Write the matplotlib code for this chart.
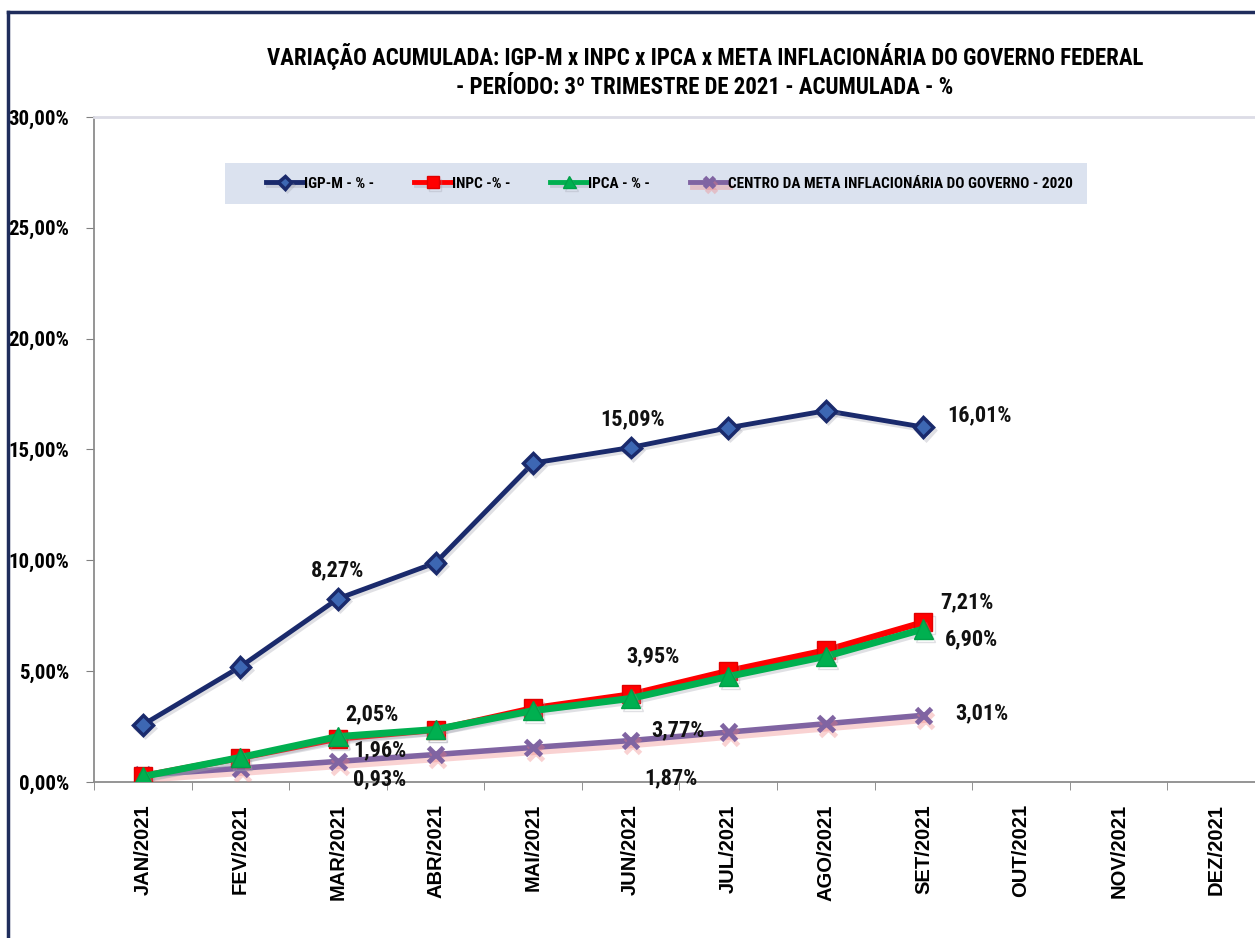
import numpy as np
import matplotlib
matplotlib.use("Agg")
import matplotlib.pyplot as plt
import matplotlib.patheffects as pe
from matplotlib.patches import Rectangle
from matplotlib import font_manager as fm

# condensed face for the chart texts, if one is installed
NARROW = "DejaVu Sans"
STRETCH = "condensed"
names = {f.name for f in fm.fontManager.ttflist}
for cand in ["Liberation Sans Narrow", "Roboto Condensed", "Open Sans Condensed"]:
    if cand in names:
        NARROW = cand
        break
plt.rcParams["font.family"] = ["Liberation Sans", "DejaVu Sans"]

months = ["JAN/2021", "FEV/2021", "MAR/2021", "ABR/2021", "MAI/2021", "JUN/2021",
          "JUL/2021", "AGO/2021", "SET/2021", "OUT/2021", "NOV/2021", "DEZ/2021"]
igpm = [2.58, 5.20, 8.27, 9.89, 14.39, 15.09, 15.98, 16.75, 16.01]
inpc = [0.27, 1.09, 1.96, 2.35, 3.33, 3.95, 5.01, 5.94, 7.21]
ipca = [0.25, 1.11, 2.05, 2.37, 3.22, 3.77, 4.76, 5.67, 6.90]
meta = [0.31, 0.62, 0.93, 1.24, 1.56, 1.87, 2.25, 2.63, 3.01]
yticks = [0, 5, 10, 15, 20, 25, 30]

# labels shown on the chart: (month index, value, dx px, dy px)
labels = [
    (2, igpm[2], 0, 28), (5, igpm[5], 2, 28), (8, igpm[8], 56, 12),
    (2, ipca[2], 34, 22), (2, inpc[2], 42, -12), (2, meta[2], 42, -18),
    (5, inpc[5], 22, 38), (5, ipca[5], 47, -32), (5, meta[5], 40, -38),
    (8, inpc[8], 43, 20), (8, ipca[8], 48, -10), (8, meta[8], 58, 2),
]

def pct(v):
    return f"{v:.2f}%".replace(".", ",")

fig = plt.figure(figsize=(12.55, 9.38), dpi=100)
fig.patch.set_facecolor("white")

# outer frame
fig.add_artist(plt.Line2D([8 / 1255, 8 / 1255], [0, 1 - 12 / 938], color="#1f2d5c", lw=2.5,
                          transform=fig.transFigure))
fig.add_artist(plt.Line2D([8 / 1255, 1], [1 - 12 / 938, 1 - 12 / 938], color="#1f2d5c", lw=2.5,
                          transform=fig.transFigure))

ax = fig.add_axes([94 / 1255, 1 - 782 / 938, 1171 / 1255, 665 / 938])
x = np.arange(len(igpm))

shadow = [pe.SimpleLineShadow(offset=(1.5, -2), shadow_color="#9a9aa8", alpha=0.3),
          pe.Normal()]

ax.plot(x, meta, color="#8064a2", lw=4, marker="x", ms=11, mew=3.5, zorder=3,
        path_effects=[pe.SimpleLineShadow(offset=(1.5, -3.5), shadow_color="#f08080", alpha=0.35),
                      pe.Normal()],
        label="CENTRO DA META INFLACIONÁRIA DO GOVERNO - 2020")
ax.plot(x, inpc, color="#ff0000", lw=4.5, marker="s", ms=13, mfc="#ff0000", mec="#e00000",
        zorder=4, path_effects=shadow, label="INPC -% -")
ax.plot(x, ipca, color="#00b050", lw=5, marker="^", ms=14, mfc="#00b050", mec="#00a048",
        zorder=5, path_effects=shadow, label="IPCA - % -")
ax.plot(x, igpm, color="#1a2a6c", lw=3.5, marker="D", ms=10, mfc="#3d67b3", mec="#1a2a6c",
        mew=2.5, zorder=6, path_effects=shadow, label="IGP-M - % -")

for i, v, dx, dy in labels:
    ax.annotate(pct(v), (i, v), xytext=(dx, dy), textcoords="offset pixels",
                ha="center", va="center", fontsize=16, fontweight="bold",
                family=NARROW, fontstretch=STRETCH, color="#111111", zorder=8)

ax.set_xlim(-0.5, len(months) - 0.5)
ax.set_ylim(0, 30)
ax.set_yticks(yticks)
ax.set_yticklabels([pct(v) for v in yticks], fontsize=15, fontweight="bold",
                   family=NARROW, fontstretch=STRETCH)
ax.set_xticks(np.arange(len(months)))
ax.set_xticklabels(months, rotation=90, fontsize=14.5, fontweight="bold")
ax.set_xticks(np.arange(len(months) + 1) - 0.5, minor=True)
ax.tick_params(axis="x", which="major", length=0, pad=16)
ax.tick_params(axis="x", which="minor", length=6, color="#808080", direction="out")
ax.tick_params(axis="y", length=6, color="#808080", pad=12)

for s in ["left", "bottom"]:
    ax.spines[s].set_color("#8c8c8c")
    ax.spines[s].set_linewidth(1.3)
ax.spines["right"].set_visible(False)
ax.spines["top"].set_color("#dcdce6")
ax.spines["top"].set_linewidth(2)

# legend band
fig.add_artist(Rectangle((225 / 1255, 1 - 204 / 938), 862 / 1255, 41 / 938,
                         transform=fig.transFigure, facecolor="#dbe2ef", edgecolor="none",
                         zorder=1))
h, l = ax.get_legend_handles_labels()
order = [3, 1, 2, 0]
leg = fig.legend([h[k] for k in order], [l[k] for k in order], ncol=4,
                 loc="center left", bbox_to_anchor=(252 / 1255, 1 - 183.5 / 938),
                 frameon=False, handlelength=2.5, handletextpad=0.0, columnspacing=2.6,
                 markerscale=0.65,
                 prop={"family": NARROW, "stretch": STRETCH, "weight": "bold", "size": 11})
for line in leg.get_lines():
    line.set_linewidth(3.5)

fig.text(705 / 1255, 1 - 57 / 938,
         "VARIAÇÃO ACUMULADA: IGP-M x INPC x IPCA x META INFLACIONÁRIA DO GOVERNO FEDERAL",
         ha="center", va="center", fontsize=16.5, fontweight="bold",
         family=NARROW, fontstretch=STRETCH)
fig.text(705 / 1255, 1 - 88 / 938, "- PERÍODO: 3º TRIMESTRE DE 2021 - ACUMULADA - %",
         ha="center", va="center", fontsize=16.5, fontweight="bold",
         family=NARROW, fontstretch=STRETCH)

fig.savefig("out.png", dpi=100)
